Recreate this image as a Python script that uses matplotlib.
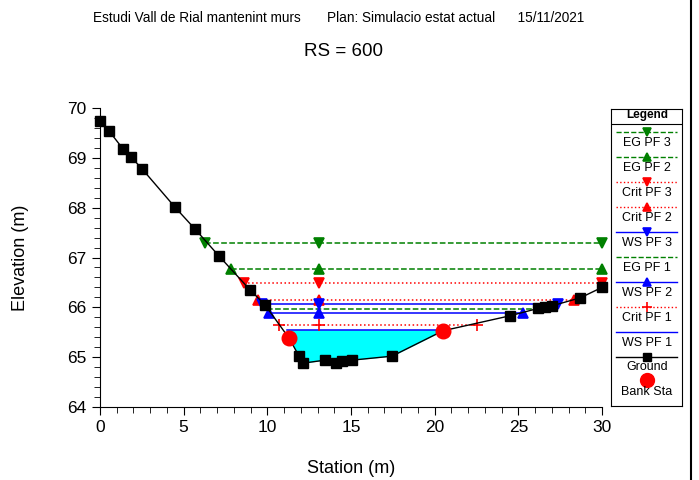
import numpy as np
import matplotlib
matplotlib.use('Agg')
import matplotlib.pyplot as plt
from matplotlib.lines import Line2D

plt.rcParams['font.family'] = ['Liberation Sans', 'DejaVu Sans']

# ground profile
ground_sta = [0, 0.54, 1.37, 1.85, 2.51, 4.48, 5.68, 7.11, 8.97, 9.86, 11.3,
              11.9, 12.13, 13.45, 14.1, 14.46, 15.06, 17.45, 20.5, 24.5,
              26.2, 26.6, 27.0, 28.7, 30.0]
ground_elev = [69.74, 69.54, 69.18, 69.02, 68.78, 68.01, 67.57, 67.03, 66.35,
               66.05, 65.38, 65.02, 64.88, 64.94, 64.88, 64.92, 64.94, 65.02,
               65.53, 65.83, 65.98, 66.0, 66.03, 66.19, 66.40]
bank_sta = [11.3, 20.5]
bank_elev = [65.38, 65.53]

# water surface profiles
prof_names = ['EG PF 3', 'EG PF 2', 'Crit PF 3', 'Crit PF 2', 'WS PF 3',
              'EG PF 1', 'WS PF 2', 'Crit PF 1', 'WS PF 1']
prof_elev = [67.30, 66.76, 66.48, 66.15, 66.07, 65.97, 65.88, 65.64, 65.55]
prof_left = [6.28, 7.8, 8.6, 9.44, 9.7, 9.98, 10.1, 10.7, 11.2]
prof_right = [30.0, 30.0, 30.0, 28.3, 27.4, 26.1, 25.3, 22.5, 20.5]
mid_sta = 13.1

styles = {
    'EG PF 3': dict(color='#008000', ls='--', marker='v'),
    'EG PF 2': dict(color='#008000', ls='--', marker='^'),
    'Crit PF 3': dict(color='#ff0000', ls=':', marker='v'),
    'Crit PF 2': dict(color='#ff0000', ls=':', marker='^'),
    'WS PF 3': dict(color='#0000ff', ls='-', marker='v'),
    'EG PF 1': dict(color='#008000', ls='--', marker=None),
    'WS PF 2': dict(color='#0000ff', ls='-', marker='^'),
    'Crit PF 1': dict(color='#ff0000', ls=':', marker='+'),
    'WS PF 1': dict(color='#0000ff', ls='-', marker=None),
}

fig = plt.figure(figsize=(6.99, 4.80), dpi=100)
ax = fig.add_axes([100/699, 1-407/480, 502/699, 299/480])

# water fill for WS PF 1
ws1 = prof_elev[-1]
xs = np.linspace(prof_left[-1], prof_right[-1], 400)
gs = np.interp(xs, ground_sta, ground_elev)
ax.fill_between(xs, gs, ws1, where=gs < ws1, color='#00ffff', lw=0, zorder=1)

for name, z, xl, xr in zip(prof_names, prof_elev, prof_left, prof_right):
    st = styles[name]
    ax.plot([xl, xr], [z, z], color=st['color'], ls=st['ls'], lw=1.1, zorder=2)
    if st['marker']:
        ms = 8 if st['marker'] == '+' else 6.5
        ax.plot([xl, mid_sta, xr], [z, z, z], ls='none', marker=st['marker'],
                color=st['color'], ms=ms, mew=1.2, zorder=3, clip_on=False)

ax.plot(ground_sta, ground_elev, color='black', lw=1, marker='s', ms=6.5,
        zorder=4, clip_on=False)
ax.plot(bank_sta, bank_elev, ls='none', marker='o', color='#ff0000', ms=10.5,
        zorder=5)

ax.set_xlim(0, 30)
ax.set_ylim(64, 70)
ax.set_xticks(range(0, 31, 5))
ax.set_xticks(range(0, 31), minor=True)
ax.set_yticks(range(64, 71))
ax.set_yticks(np.arange(64, 70.01, 0.2), minor=True)
ax.spines['top'].set_visible(False)
ax.spines['right'].set_visible(False)
ax.tick_params(labelsize=12.5, length=6, direction='out')
ax.tick_params(which='minor', length=4)
ax.set_xlabel('Station (m)', fontsize=13, labelpad=18)
ax.set_ylabel('Elevation (m)', fontsize=13, labelpad=28)

fig.text(339/699, 1-18/480,
         'Estudi Vall de Rial mantenint murs       Plan: Simulacio estat actual      15/11/2021',
         ha='center', va='center', fontsize=9.8)
fig.text(344/699, 1-52/480, 'RS = 600', ha='center', va='center', fontsize=13.5)
fig.add_artist(Line2D([691/699, 691/699], [0, 1], color='black', lw=1.5))

# legend drawn in pixel coordinates
lg = fig.add_axes([611/699, 1-406/480, 71/699, 297/480])
lg.set_xlim(0, 71)
lg.set_ylim(297, 0)
lg.set_xticks([])
lg.set_yticks([])
for s in lg.spines.values():
    s.set_linewidth(0.8)
lg.text(36, 6, 'Legend', ha='center', va='center', fontsize=8.5,
        fontweight='bold')
lg.axhline(15, color='black', lw=0.8)
for i, name in enumerate(prof_names):
    st = styles[name]
    yl = 23 + 25 * i
    lg.plot([5, 66], [yl, yl], color=st['color'], ls=st['ls'], lw=1)
    if st['marker']:
        lg.plot([36], [yl], marker=st['marker'], color=st['color'],
                ms=6 if st['marker'] != '+' else 7, mew=1.2)
    lg.text(36, yl + 11, name, ha='center', va='center', fontsize=9)
yg = 23 + 25 * len(prof_names)
lg.plot([5, 66], [yg, yg], color='black', lw=1)
lg.plot([36], [yg], marker='s', color='black', ms=6)
lg.text(36, yg + 10, 'Ground', ha='center', va='center', fontsize=9)
lg.plot([36], [yg + 23], marker='o', color='#ff0000', ms=10)
lg.text(36, yg + 35, 'Bank Sta', ha='center', va='center', fontsize=9)

fig.savefig('out.png', dpi=100)
